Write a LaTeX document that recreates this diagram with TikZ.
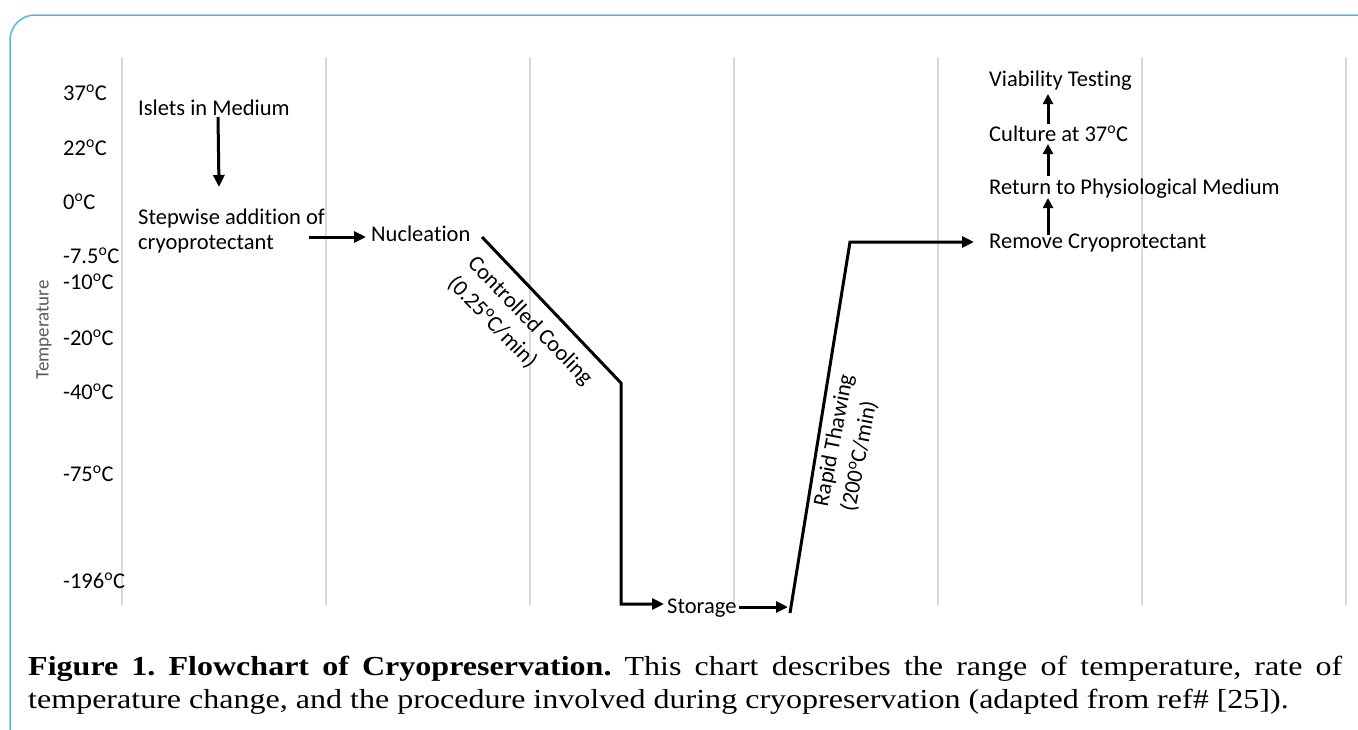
\documentclass[tikz,border=0pt]{standalone}
\usepackage{fontspec}
\setmainfont{Carlito}[Ligatures=NoCommon]
\newfontfamily\capfont{Liberation Serif}[FakeStretch=1.165]
\usetikzlibrary{arrows.meta}
\definecolor{gridgray}{HTML}{D9D9D9}
\definecolor{framecol}{HTML}{5AB4DE}
\definecolor{axisgray}{HTML}{595959}
\newcommand{\dg}{\textsuperscript{o}}
\frenchspacing
\begin{document}
\begin{tikzpicture}[x=1pt,y=-1pt,
  lbl/.style={font=\fontsize{22.5}{28}\selectfont, inner sep=0pt, anchor=base west},
  rotlbl/.style={font=\fontsize{22.5}{28}\selectfont, inner sep=0pt, align=left},
  flow/.style={line width=3pt, line join=miter},
  arr/.style={flow, -{Triangle[length=12pt,width=11pt]}},
  uparr/.style={flow, -{Triangle[length=10pt,width=10pt]}},
  gridline/.style={gridgray, line width=1.8pt},
]
\useasboundingbox (0,0) rectangle (1358,729);
\begin{scope}
\clip (0,0) rectangle (1358,729);
\draw[framecol, line width=1.5pt, rounded corners=25pt] (10,15) rectangle (1385,760);
\end{scope}
\foreach \x in {122,326,530,734,938,1142,1346} \draw[gridline] (\x,57) -- (\x,605);
% axis labels
\node[lbl] (t37) at (63,100) {37\dg C};
\node[lbl] (t22) at (63,155) {22\dg C};
\node[lbl] (t0) at (63,209) {0\dg C};
\node[lbl] (t75a) at (63,263) {-7.5\dg C};
\node[lbl] (t10) at (63,289) {-10\dg C};
\node[lbl] (t20) at (63,345) {-20\dg C};
\node[lbl] (t40) at (63,399) {-40\dg C};
\node[lbl] (t75) at (63,481) {-75\dg C};
\node[lbl] (t196) at (63,588) {-196\dg C};
\node[font=\fontsize{19}{22}\selectfont, text=axisgray, rotate=90, inner sep=0pt] (ylab) at (44,330) {Temperature};
% step texts
\node[lbl] (islets) at (138,115) {Islets in Medium};
\node[lbl] (step1) at (138,224) {Stepwise addition of};
\node[lbl] (step2) at (138,249) {cryoprotectant};
\node[lbl] (nuc) at (371,241) {Nucleation};
\node[lbl] (stor) at (667,613) {Storage};
\node[lbl] (remove) at (989,248) {Remove Cryoprotectant};
\node[lbl] (ret) at (989,194) {Return to Physiological Medium};
\node[lbl] (cult) at (989,141) {Culture at 37\dg C};
\node[lbl] (via) at (989,86) {Viability Testing};
\node[rotlbl, rotate=-46] (cool) at (520,331) {Controlled Cooling\\(0.25\dg C/min)};
\node[rotlbl, rotate=79] (thaw) at (848,443) {Rapid Thawing\\(200\dg C/min)};
% connector points
\coordinate (a1s) at (218,117);
\coordinate (a1e) at (219,187);
\coordinate (a2s) at (309,237);
\coordinate (a2e) at (366,237);
\coordinate (c0) at (482,237);
\coordinate (c1) at (621,383);
\coordinate (c2) at (621,604);
\coordinate (c3) at (664,604);
\coordinate (s1) at (739,607);
\coordinate (s2) at (788,607);
\coordinate (h0) at (790,613);
\coordinate (h1) at (850,242);
\coordinate (h2) at (974,242);
\coordinate (u1s) at (1048,235);
\coordinate (u1e) at (1048,198);
\coordinate (u2s) at (1048,176);
\coordinate (u2e) at (1048,144);
\coordinate (u3s) at (1048,124);
\coordinate (u3e) at (1048,94);
% connectors
\draw[arr] (a1s) -- (a1e);
\draw[arr] (a2s) -- (a2e);
\draw[arr] (c0) -- (c1) -- (c2) -- (c3);
\draw[arr] (s1) -- (s2);
\draw[arr] (h0) -- (h1) -- (h2);
\draw[uparr] (u1s) -- (u1e);
\draw[uparr] (u2s) -- (u2e);
\draw[uparr] (u3s) -- (u3e);
% caption
\node[anchor=base west, inner sep=0pt, text width=1314pt, align=justify,
      font=\capfont\fontsize{27.5}{33.5}\selectfont] (cap) at (28,675)
  {\textbf{Figure 1. Flowchart of Cryopreservation.} This chart describes the range of temperature, rate of\linebreak temperature change, and the procedure involved during cryopreservation (adapted from ref\# [25]).};
\end{tikzpicture}
\end{document}
